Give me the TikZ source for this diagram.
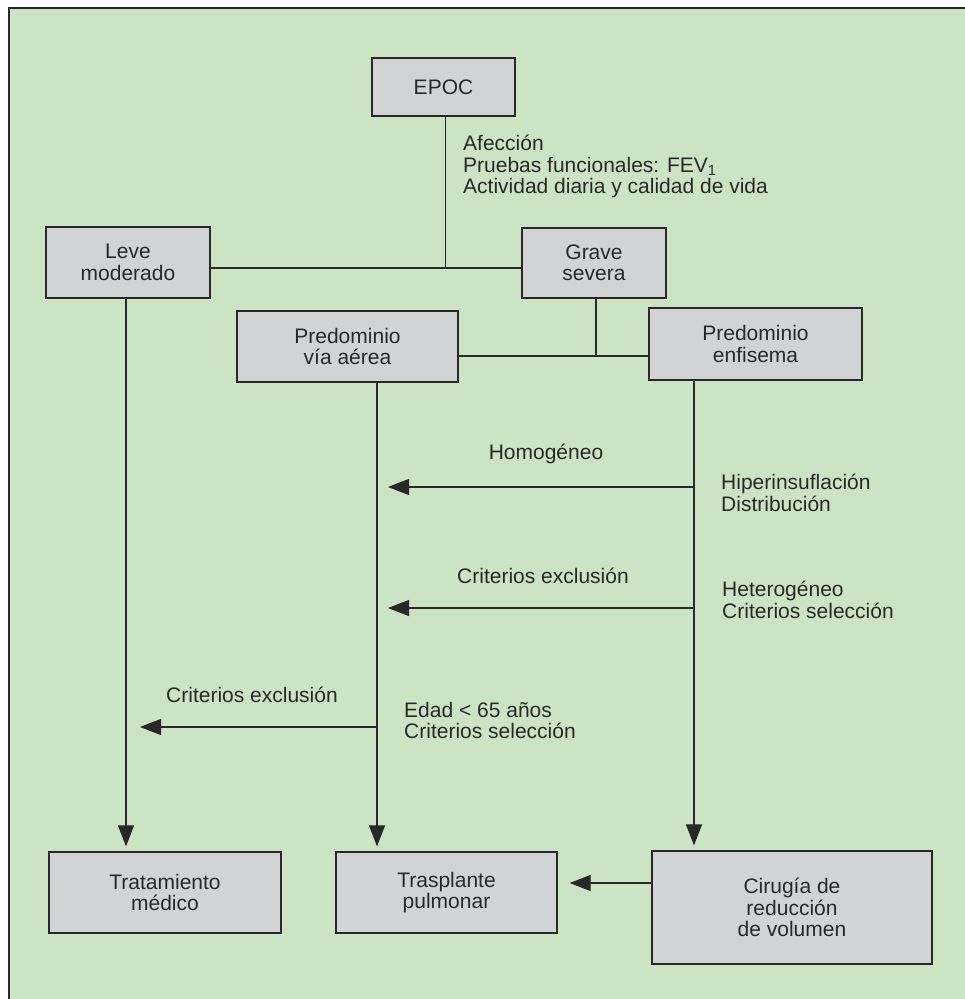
\documentclass[tikz,border=0pt]{standalone}
\usepackage{fontspec}
\setmainfont{Liberation Sans}
\usetikzlibrary{arrows.meta}
\usetikzlibrary{calc,positioning}
\definecolor{fondo}{RGB}{205,228,196}
\definecolor{griscaja}{RGB}{210,211,213}
\definecolor{linea}{RGB}{40,40,40}

\begin{document}
\begin{tikzpicture}[x=1pt, y=-1pt, >={Triangle[length=21pt,width=16pt]},
    every node/.style={font=\fontsize{21}{21.5}\selectfont, text=linea},
    caja/.style={draw=linea, line width=1.3pt, fill=griscaja, align=center, inner sep=0pt},
    conector/.style={draw=linea, line width=1.1pt},
    etiqueta/.style={align=left, anchor=north west, inner sep=0pt},
    rotulo/.style={anchor=base, inner sep=0pt}]

    \useasboundingbox (0,0) rectangle (965,999);
    \fill[fondo] (9,8) rectangle (965,999);
    \draw[linea, line width=2pt] (9,999) -- (9,8) -- (965,8);

    \node[caja, minimum width=143pt, minimum height=58pt] (epoc) at (443.5,87) {EPOC};
    \node[caja, minimum width=164pt, minimum height=71pt] (leve) at (128,262.5) {Leve\\moderado};
    \node[caja, minimum width=144pt, minimum height=70pt] (grave) at (594,263) {Grave\\severa};
    \node[caja, minimum width=221pt, minimum height=71pt] (aerea) at (347.5,346.5) {Predominio\\vía aérea};
    \node[caja, minimum width=213pt, minimum height=72pt] (enfisema) at (755.5,344) {Predominio\\enfisema};
    \node[caja, minimum width=232pt, minimum height=81pt] (tratamiento) at (165,892.5) {Tratamiento\\médico};
    \node[caja, minimum width=221pt, minimum height=81pt] (trasplante) at (446.5,892.5) {Trasplante\\pulmonar};
    \node[caja, minimum width=280pt, minimum height=113pt] (cirugia) at (792,907.5) {Cirugía de\\reducción\\de volumen};

    \coordinate (j1) at (445.5,268);
    \coordinate (j2) at (596,356);
    \coordinate (xl) at (126,0);
    \coordinate (xa) at (377,0);
    \coordinate (xe) at (694,0);
    \coordinate (f1) at (0,487);
    \coordinate (f2) at (0,608);
    \coordinate (f3) at (0,727);
    \coordinate (f4) at (0,883);

    \draw[conector] (epoc.south -| j1) -- (j1);
    \draw[conector] (leve.east |- j1) -- (grave.west |- j1);
    \draw[conector] (grave.south -| j2) -- (j2);
    \draw[conector] (aerea.east |- j2) -- (enfisema.west |- j2);

    \draw[conector, ->, shorten >=5pt] (leve.south -| xl) -- (tratamiento.north -| xl);
    \draw[conector, ->, shorten >=5pt] (aerea.south -| xa) -- (trasplante.north -| xa);
    \draw[conector, ->, shorten >=5pt] (enfisema.south -| xe) -- (cirugia.north -| xe);
    \draw[conector, ->, shorten >=11pt] (xe |- f1) -- (xa |- f1);
    \draw[conector, ->, shorten >=11pt] (xe |- f2) -- (xa |- f2);
    \draw[conector, ->, shorten >=14pt] (xa |- f3) -- (xl |- f3);
    \draw[conector, ->, shorten >=12pt] (cirugia.west |- f4) -- (trasplante.east |- f4);

    % textos de los criterios
    \node[etiqueta] (afeccion) at (463,135) {Afección\\Pruebas funcionales: FEV\textsubscript{1}\\Actividad diaria y calidad de vida};
    \node[rotulo] (homogeneo) at (546,459) {Homogéneo};
    \node[etiqueta] (hiper) at (721,474) {Hiperinsuflación\\Distribución};
    \node[rotulo] (exclusion1) at (543,583) {Criterios exclusión};
    \node[etiqueta] (hetero) at (722,581) {Heterogéneo\\Criterios selección};
    \node[rotulo] (exclusion2) at (252,702) {Criterios exclusión};
    \node[etiqueta] (edad) at (404,702) {Edad < 65 años\\Criterios selección};

\end{tikzpicture}
\end{document}
